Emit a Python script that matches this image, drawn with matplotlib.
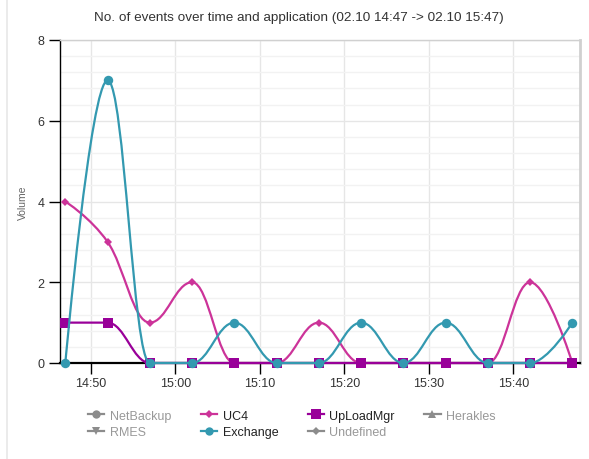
import matplotlib
matplotlib.use("Agg")
import matplotlib.pyplot as plt
from matplotlib.path import Path
from matplotlib.patches import PathPatch
from matplotlib.lines import Line2D
from matplotlib.ticker import MultipleLocator, FixedLocator

plt.rcParams['font.family'] = ['Liberation Sans', 'DejaVu Sans']

# ---- data ----
# time in minutes after 14:00 (14:47 ... 15:47, every 5 minutes)
times = [47, 52, 57, 62, 67, 72, 77, 82, 87, 92, 97, 102, 107]
uc4 = [4, 3, 1, 2, 0, 0, 1, 0, 0, 0, 0, 2, 0]
uploadmgr = [1, 1, 0, 0, 0, 0, 0, 0, 0, 0, 0, 0, 0]
exchange = [0, 7, 0, 0, 1, 0, 0, 1, 0, 1, 0, 0, 1]
xtick_pos = [50, 60, 70, 80, 90, 100]
xtick_labels = ["14:50", "15:00", "15:10", "15:20", "15:30", "15:40"]
title = "No. of events over time and application (02.10 14:47 -> 02.10 15:47)"

C_UC4 = "#cc3399"
C_UPL = "#990099"
C_EXC = "#3399b0"
C_GREY = "#8c8c8c"


def spline_path(xs, ys):
    """Highcharts-style spline (cubic Bezier) through the points."""
    n = len(xs)
    sm = 1.5
    den = sm + 1
    rc = [None] * n
    lc = [None] * n
    for i in range(1, n - 1):
        px, py = xs[i], ys[i]
        lx, ly = xs[i - 1], ys[i - 1]
        nx, ny = xs[i + 1], ys[i + 1]
        lcx = (sm * px + lx) / den
        lcy = (sm * py + ly) / den
        rcx = (sm * px + nx) / den
        rcy = (sm * py + ny) / den
        corr = 0
        if rcx != lcx:
            corr = (rcy - lcy) * (rcx - px) / (rcx - lcx) + py - rcy
        lcy += corr
        rcy += corr
        if lcy > ly and lcy > py:
            lcy = max(ly, py)
            rcy = 2 * py - lcy
        elif lcy < ly and lcy < py:
            lcy = min(ly, py)
            rcy = 2 * py - lcy
        if rcy > ny and rcy > py:
            rcy = max(ny, py)
            lcy = 2 * py - rcy
        elif rcy < ny and rcy < py:
            rcy = min(ny, py)
            lcy = 2 * py - rcy
        lc[i] = (lcx, lcy)
        rc[i] = (rcx, rcy)
    verts = [(xs[0], ys[0])]
    codes = [Path.MOVETO]
    for i in range(1, n):
        c1 = rc[i - 1] if rc[i - 1] is not None else (xs[i - 1], ys[i - 1])
        c2 = lc[i] if lc[i] is not None else (xs[i], ys[i])
        verts += [c1, c2, (xs[i], ys[i])]
        codes += [Path.CURVE4, Path.CURVE4, Path.CURVE4]
    return Path(verts, codes)


fig = plt.figure(figsize=(5.89, 4.60), dpi=100)
ax = fig.add_axes([60 / 589, 1 - 364 / 460, 520 / 589, 323 / 460])

series = [
    (uc4, C_UC4, "D", 4.2, 3),
    (uploadmgr, C_UPL, "s", 6.5, 4),
    (exchange, C_EXC, "o", 6.8, 5),
]
for vals, col, mk, ms, z in series:
    patch = PathPatch(spline_path(times, vals), facecolor="none", edgecolor=col,
                      lw=1.6, zorder=z, clip_on=False, capstyle="round", joinstyle="round")
    ax.add_patch(patch)
    ax.plot(times, vals, linestyle="none", marker=mk, ms=ms, color=col,
            markeredgewidth=0, zorder=z + 0.5, clip_on=False)

ax.set_xlim(46.37, 107.9)
ax.set_ylim(0, 8)
ax.xaxis.set_major_locator(FixedLocator(xtick_pos))
ax.set_xticklabels(xtick_labels)
ax.yaxis.set_major_locator(MultipleLocator(2))
ax.yaxis.set_minor_locator(MultipleLocator(0.4))
ax.grid(True, which="major", axis="both", color="#e6e6e6", lw=1.0, zorder=0)
ax.grid(True, which="minor", axis="y", color="#f2f2f2", lw=1.0, zorder=0)
ax.set_axisbelow(True)

ax.tick_params(axis="both", which="major", direction="out", length=8, width=1,
               color="#000000", labelsize=9, labelcolor="#333333", pad=3)
ax.tick_params(axis="y", which="minor", length=0)
ax.tick_params(axis="x", pad=2)

for s in ["top", "right"]:
    ax.spines[s].set_color("#d0d0d0")
ax.spines["right"].set_linewidth(2)
ax.spines["top"].set_linewidth(1)
ax.spines["left"].set_color("#000000")
ax.spines["left"].set_linewidth(1)
ax.spines["bottom"].set_color("#000000")
ax.spines["bottom"].set_linewidth(1.6)
ax.spines["bottom"].set_zorder(2.5)

ax.set_ylabel("Volume", fontsize=7.5, color="#666666")
ax.yaxis.set_label_coords(-0.062, 0.5)

fig.text(0.507, 1 - 18 / 460, title, ha="center", va="center", fontsize=9.7, color="#333333")

# left card border
fig.add_artist(Line2D([7 / 589, 7 / 589], [0, 1], color="#e8e8e8", lw=1.2,
                      transform=fig.transFigure))

# legend
leg_items = [
    ("NetBackup", C_GREY, "o", False),
    ("RMES", C_GREY, "v", False),
    ("UC4", C_UC4, "D", True),
    ("Exchange", C_EXC, "o", True),
    ("UpLoadMgr", C_UPL, "s", True),
    ("Undefined", C_GREY, "D", False),
    ("Herakles", C_GREY, "^", False),
]
handles = []
labels = []
for name, col, mk, active in leg_items:
    ms = {"o": 6, "D": 4, "s": 6.5, "v": 6, "^": 6}[mk]
    handles.append(Line2D([0], [0], color=col, lw=1.6, marker=mk, ms=ms, markeredgewidth=0))
    labels.append(name)
leg = fig.legend(handles, labels, ncol=4, loc="center left",
                 bbox_to_anchor=(88 / 589, 1 - 425 / 460), frameon=False,
                 fontsize=9, handlelength=1.3, handletextpad=0.45,
                 columnspacing=2.35, labelspacing=0.35, borderaxespad=0, borderpad=0)
for txt, (name, col, mk, active) in zip(leg.get_texts(), leg_items):
    txt.set_color("#222222" if active else "#999999")

fig.savefig("out.png", dpi=100)
